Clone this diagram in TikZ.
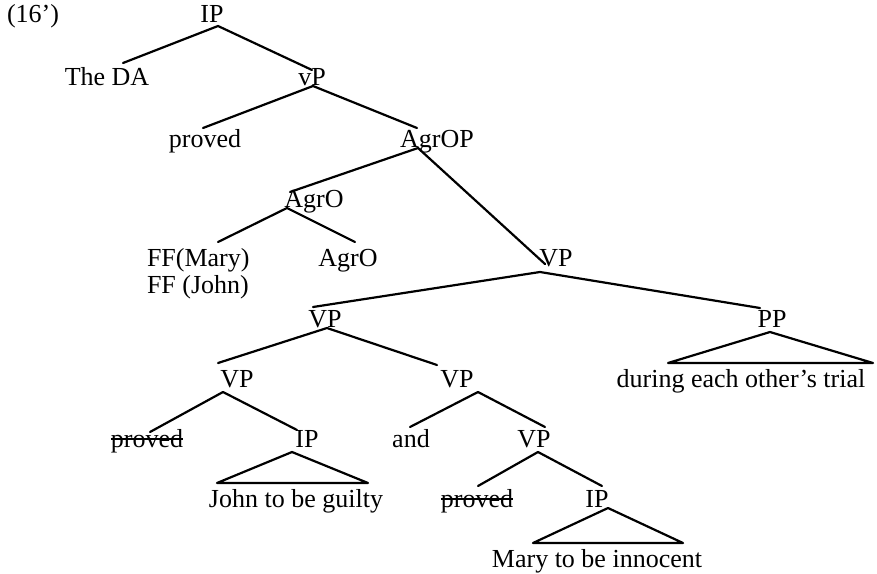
\documentclass[tikz,border=0pt]{standalone}
\usepackage{fontspec}
\setmainfont{Liberation Serif}
\usetikzlibrary{calc}
\begin{document}
\begin{tikzpicture}[x=1pt,y=-1pt,
  lbl/.style={inner sep=0pt,outer sep=0pt,anchor=base,font=\fontsize{26}{27}\selectfont},
  branch/.style={line width=2.2pt,line cap=round,line join=round},
  strike/.style={line width=1.8pt}]
\useasboundingbox (0,0) rectangle (877,573);

% ---- labels (placed on their baselines) ----
\node[lbl,anchor=base west] (ex) at (7,22) {(16’)};
\node[lbl] (ip1) at (212,22) {IP};
\node[lbl] (theda) at (107,85) {The DA};
\node[lbl] (vp0) at (312,85) {vP};
\node[lbl] (proved1) at (205,147) {proved};
\node[lbl] (agrop) at (437,147) {AgrOP};
\node[lbl] (agro1) at (314,207) {AgrO};
\node[lbl,anchor=base west] (ffm) at (147,266) {FF(Mary)};
\node[lbl,anchor=base west] (ffj) at (147,293) {FF (John)};
\node[lbl] (agro2) at (348,266) {AgrO};
\node[lbl] (vp1) at (556,266) {VP};
\node[lbl] (vp2) at (325,327) {VP};
\node[lbl] (pp) at (772,327) {PP};
\node[lbl] (vp3) at (237,387) {VP};
\node[lbl] (vp4) at (457,387) {VP};
\node[lbl] (dur) at (741,387) {during each other’s trial};
\node[lbl] (proved2) at (147,447) {proved};
\node[lbl] (ip2) at (307,447) {IP};
\node[lbl] (and) at (411,447) {and};
\node[lbl] (vp5) at (534,447) {VP};
\node[lbl] (john) at (296,507) {John to be guilty};
\node[lbl] (proved3) at (477,507) {proved};
\node[lbl] (ip3) at (597,507) {IP};
\node[lbl] (mary) at (597,567) {Mary to be innocent};

% struck-out copies of the verb
\draw[strike] ($(proved2.base west)+(0,-8)$) -- ($(proved2.base east)+(0,-8)$);
\draw[strike] ($(proved3.base west)+(0,-8)$) -- ($(proved3.base east)+(0,-8)$);

% ---- branch attachment points ----
\coordinate (ip1-dn) at (218,26);
\coordinate (theda-up) at (123,63);
\coordinate (vp0-up) at (312,70);
\coordinate (vp0-dn) at (313,86);
\coordinate (proved1-up) at (203,128);
\coordinate (agrop-up) at (417,128);
\coordinate (agrop-dn) at (418,148);
\coordinate (agro1-up) at (290,192);
\coordinate (vp1-up) at (545,264);
\coordinate (agro1-dn) at (287,208);
\coordinate (ffm-up) at (218,242);
\coordinate (agro2-up) at (355,242);
\coordinate (vp1-dn) at (540,272);
\coordinate (vp2-up) at (313,307);
\coordinate (pp-up) at (760,308);
\coordinate (vp2-dn) at (327,328);
\coordinate (vp3-up) at (218,363);
\coordinate (vp4-up) at (437,365);
\coordinate (pp-dn) at (770,332);
\coordinate (pp-l) at (668,363);
\coordinate (pp-r) at (873,363);
\coordinate (vp3-dn) at (223,392);
\coordinate (proved2-up) at (150,432);
\coordinate (ip2-up) at (297,430);
\coordinate (ip2-dn) at (292,452);
\coordinate (ip2-l) at (217,483);
\coordinate (ip2-r) at (368,483);
\coordinate (vp4-dn) at (478,392);
\coordinate (and-up) at (410,427);
\coordinate (vp5-up) at (545,427);
\coordinate (vp5-dn) at (538,452);
\coordinate (proved3-up) at (478,486);
\coordinate (ip3-up) at (602,486);
\coordinate (ip3-dn) at (608,508);
\coordinate (ip3-l) at (533,543);
\coordinate (ip3-r) at (683,543);

% ---- branches ----
\draw[branch] (theda-up) -- (ip1-dn) -- (vp0-up);
\draw[branch] (proved1-up) -- (vp0-dn) -- (agrop-up);
\draw[branch] (agro1-up) -- (agrop-dn) -- (vp1-up);
\draw[branch] (ffm-up) -- (agro1-dn) -- (agro2-up);
\draw[branch] (vp2-up) -- (vp1-dn) -- (pp-up);
\draw[branch] (vp3-up) -- (vp2-dn) -- (vp4-up);
\draw[branch] (proved2-up) -- (vp3-dn) -- (ip2-up);
\draw[branch] (and-up) -- (vp4-dn) -- (vp5-up);
\draw[branch] (proved3-up) -- (vp5-dn) -- (ip3-up);

% ---- triangles over unanalysed constituents ----
\draw[branch] (pp-dn) -- (pp-l) -- (pp-r) -- cycle;
\draw[branch] (ip2-dn) -- (ip2-l) -- (ip2-r) -- cycle;
\draw[branch] (ip3-dn) -- (ip3-l) -- (ip3-r) -- cycle;
\end{tikzpicture}
\end{document}
